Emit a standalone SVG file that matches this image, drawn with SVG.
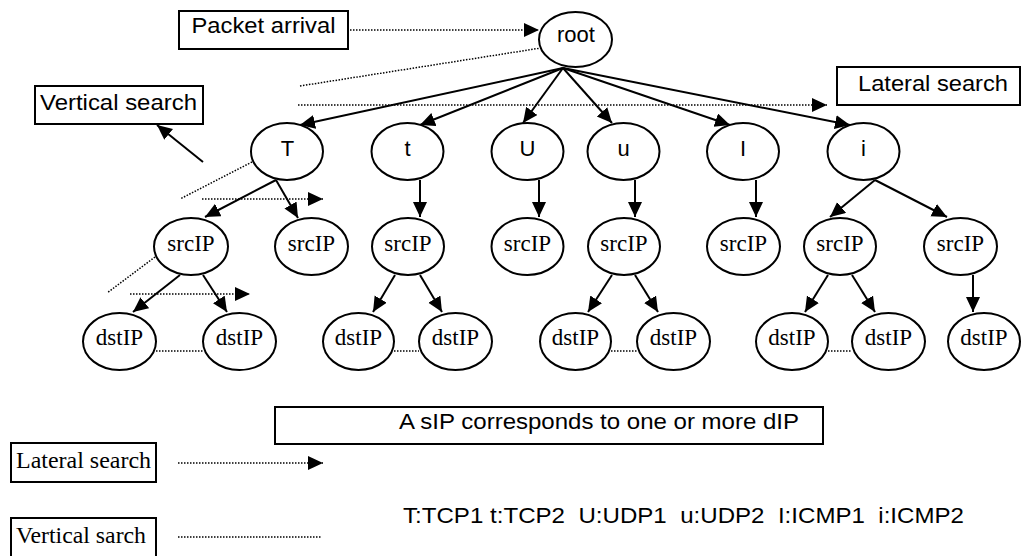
<svg xmlns="http://www.w3.org/2000/svg" width="1021" height="556" viewBox="0 0 1021 556">
<style>
.ov{fill:#fff;stroke:#000;stroke-width:2}
.bx{fill:#fff;stroke:#000;stroke-width:2}
.sa{font-family:"Liberation Sans",Arial,sans-serif;font-size:22px;fill:#000;text-anchor:middle}
.se{font-family:"Liberation Serif","Times New Roman",serif;font-size:23px;fill:#000;text-anchor:middle}
.ln{stroke:#000;stroke-width:2;fill:none}
.dt{stroke:#000;stroke-width:1.5;stroke-dasharray:1.5 1.5;fill:none}
</style>
<defs>
<marker id="ah" markerUnits="userSpaceOnUse" markerWidth="16" markerHeight="15" refX="15" refY="7" orient="auto">
<path d="M0,0 L15,7 L0,14 z" fill="#000"/>
</marker>
</defs>
<rect width="1021" height="556" fill="#fff"/>
<g id="connectors">
<line class="ln" x1="563" y1="68" x2="300" y2="125" marker-end="url(#ah)"/>
<line class="ln" x1="563" y1="68" x2="420" y2="125" marker-end="url(#ah)"/>
<line class="ln" x1="563" y1="68" x2="523" y2="123" marker-end="url(#ah)"/>
<line class="ln" x1="563" y1="68" x2="612" y2="123" marker-end="url(#ah)"/>
<line class="ln" x1="563" y1="68" x2="730" y2="125" marker-end="url(#ah)"/>
<line class="ln" x1="563" y1="68" x2="850" y2="125" marker-end="url(#ah)"/>
<line class="ln" x1="276" y1="180" x2="205" y2="217" marker-end="url(#ah)"/>
<line class="ln" x1="276" y1="180" x2="298" y2="218" marker-end="url(#ah)"/>
<line class="ln" x1="420" y1="180" x2="420" y2="217" marker-end="url(#ah)"/>
<line class="ln" x1="539" y1="180" x2="539" y2="217" marker-end="url(#ah)"/>
<line class="ln" x1="635" y1="180" x2="635" y2="217" marker-end="url(#ah)"/>
<line class="ln" x1="756" y1="180" x2="756" y2="217" marker-end="url(#ah)"/>
<line class="ln" x1="875" y1="180" x2="830" y2="217" marker-end="url(#ah)"/>
<line class="ln" x1="875" y1="180" x2="947" y2="217" marker-end="url(#ah)"/>
<line class="ln" x1="180" y1="275" x2="133" y2="312" marker-end="url(#ah)"/>
<line class="ln" x1="203" y1="275" x2="227" y2="312" marker-end="url(#ah)"/>
<line class="ln" x1="395" y1="275" x2="373" y2="312" marker-end="url(#ah)"/>
<line class="ln" x1="420" y1="275" x2="442" y2="312" marker-end="url(#ah)"/>
<line class="ln" x1="612" y1="275" x2="588" y2="312" marker-end="url(#ah)"/>
<line class="ln" x1="635" y1="275" x2="658" y2="312" marker-end="url(#ah)"/>
<line class="ln" x1="828" y1="275" x2="805" y2="312" marker-end="url(#ah)"/>
<line class="ln" x1="852" y1="275" x2="875" y2="312" marker-end="url(#ah)"/>
<line class="ln" x1="973" y1="275" x2="973" y2="312" marker-end="url(#ah)"/>
<line class="ln" x1="203" y1="162" x2="157" y2="125" marker-end="url(#ah)"/>
<line class="dt" x1="350" y1="30" x2="539" y2="30" marker-end="url(#ah)"/>
<line class="dt" x1="300" y1="86" x2="541" y2="48"/>
<line class="dt" x1="298" y1="105" x2="827" y2="105" marker-end="url(#ah)"/>
<line class="dt" x1="252" y1="162" x2="180" y2="199"/>
<line class="dt" x1="202" y1="199" x2="323" y2="199" marker-end="url(#ah)"/>
<line class="dt" x1="155" y1="257" x2="107" y2="293"/>
<line class="dt" x1="130" y1="294" x2="250" y2="294" marker-end="url(#ah)"/>
<line class="dt" x1="156" y1="351" x2="203" y2="351"/>
<line class="dt" x1="394" y1="351" x2="419" y2="351"/>
<line class="dt" x1="611" y1="351" x2="637" y2="351"/>
<line class="dt" x1="828" y1="351" x2="852" y2="351"/>
<line class="dt" x1="178" y1="463" x2="323" y2="463" marker-end="url(#ah)"/>
<line class="dt" x1="178" y1="537" x2="322" y2="537"/>
</g>
<g id="packet-arrival"><rect class="bx" x="179" y="11" width="169" height="38"/><text class="sa" x="263.5" y="33" textLength="144" lengthAdjust="spacingAndGlyphs">Packet arrival</text></g>
<g id="lateral-search-top"><rect class="bx" x="837" y="67" width="183" height="38"/><text class="sa" x="933" y="91" textLength="150" lengthAdjust="spacingAndGlyphs">Lateral search</text></g>
<g id="vertical-search-top"><rect class="bx" x="35" y="86" width="168" height="38"/><text class="sa" x="118.5" y="110" textLength="157" lengthAdjust="spacingAndGlyphs">Vertical search</text></g>
<g id="root"><ellipse class="ov" cx="575.5" cy="39.5" rx="36.5" ry="27.5"/><text class="sa" x="576" y="42" font-size="23">root</text></g>
<g id="n-T"><ellipse class="ov" cx="287" cy="151.5" rx="36" ry="28.5"/><text class="sa" x="287.5" y="156" font-size="23">T</text></g>
<g id="n-t"><ellipse class="ov" cx="407.5" cy="151.5" rx="36" ry="28.5"/><text class="sa" x="407.5" y="156" font-size="23">t</text></g>
<g id="n-U"><ellipse class="ov" cx="527.5" cy="151.5" rx="36" ry="28.5"/><text class="sa" x="527.5" y="156" font-size="23">U</text></g>
<g id="n-u"><ellipse class="ov" cx="623.5" cy="151.5" rx="36" ry="28.5"/><text class="sa" x="623.5" y="156" font-size="23">u</text></g>
<g id="n-I"><ellipse class="ov" cx="743" cy="151.5" rx="36" ry="28.5"/><text class="sa" x="743" y="156" font-size="23">I</text></g>
<g id="n-i"><ellipse class="ov" cx="863.5" cy="151.5" rx="36" ry="28.5"/><text class="sa" x="863.5" y="156" font-size="23">i</text></g>
<g id="src-T1"><ellipse class="ov" cx="191" cy="246.5" rx="37" ry="28.5"/><text class="se" x="191" y="251">srcIP</text></g>
<g id="src-T2"><ellipse class="ov" cx="311.5" cy="246.5" rx="36.5" ry="28.5"/><text class="se" x="311.5" y="251">srcIP</text></g>
<g id="src-t"><ellipse class="ov" cx="408" cy="246.5" rx="36" ry="28.5"/><text class="se" x="408" y="251">srcIP</text></g>
<g id="src-U"><ellipse class="ov" cx="527.5" cy="246.5" rx="36" ry="28.5"/><text class="se" x="527.5" y="251">srcIP</text></g>
<g id="src-u"><ellipse class="ov" cx="624" cy="246.5" rx="36" ry="28.5"/><text class="se" x="624" y="251">srcIP</text></g>
<g id="src-I"><ellipse class="ov" cx="743.5" cy="246.5" rx="36.5" ry="28.5"/><text class="se" x="743.5" y="251">srcIP</text></g>
<g id="src-i1"><ellipse class="ov" cx="840" cy="246.5" rx="36" ry="28.5"/><text class="se" x="840" y="251">srcIP</text></g>
<g id="src-i2"><ellipse class="ov" cx="960.5" cy="246.5" rx="36.5" ry="28.5"/><text class="se" x="960.5" y="251">srcIP</text></g>
<g id="dst-T1"><ellipse class="ov" cx="119.5" cy="341.5" rx="36.5" ry="28.5"/><text class="se" x="119.5" y="345">dstIP</text></g>
<g id="dst-T2"><ellipse class="ov" cx="239.5" cy="341.5" rx="36.5" ry="28.5"/><text class="se" x="239.5" y="345">dstIP</text></g>
<g id="dst-t1"><ellipse class="ov" cx="358.5" cy="341.5" rx="35.5" ry="28.5"/><text class="se" x="358.5" y="345">dstIP</text></g>
<g id="dst-t2"><ellipse class="ov" cx="455.5" cy="341.5" rx="36.5" ry="28.5"/><text class="se" x="455.5" y="345">dstIP</text></g>
<g id="dst-u1"><ellipse class="ov" cx="575.5" cy="341.5" rx="35.5" ry="28.5"/><text class="se" x="575.5" y="345">dstIP</text></g>
<g id="dst-u2"><ellipse class="ov" cx="673.5" cy="341.5" rx="36.5" ry="28.5"/><text class="se" x="673.5" y="345">dstIP</text></g>
<g id="dst-i1"><ellipse class="ov" cx="792" cy="341.5" rx="36" ry="28.5"/><text class="se" x="792" y="345">dstIP</text></g>
<g id="dst-i2"><ellipse class="ov" cx="888.5" cy="341.5" rx="36.5" ry="28.5"/><text class="se" x="888.5" y="345">dstIP</text></g>
<g id="dst-i3"><ellipse class="ov" cx="984" cy="341.5" rx="36" ry="28.5"/><text class="se" x="984" y="345">dstIP</text></g>
<g id="note"><rect class="bx" x="275" y="407" width="548" height="37"/><text class="sa" x="599" y="429" textLength="400" lengthAdjust="spacingAndGlyphs">A sIP corresponds to one or more dIP</text></g>
<g id="legend-lateral"><rect class="bx" x="11" y="443" width="145" height="39"/><text class="se" x="83.5" y="468" textLength="135" lengthAdjust="spacingAndGlyphs">Lateral search</text></g>
<g id="legend-vertical"><rect class="bx" x="11" y="518" width="145" height="40"/><text class="se" x="81" y="543" textLength="130" lengthAdjust="spacingAndGlyphs">Vertical sarch</text></g>
<g id="legend-key"><text class="sa" x="683.5" y="523" textLength="561" lengthAdjust="spacingAndGlyphs" style="white-space:pre">T:TCP1 t:TCP2  U:UDP1  u:UDP2  I:ICMP1  i:ICMP2</text></g>
</svg>
